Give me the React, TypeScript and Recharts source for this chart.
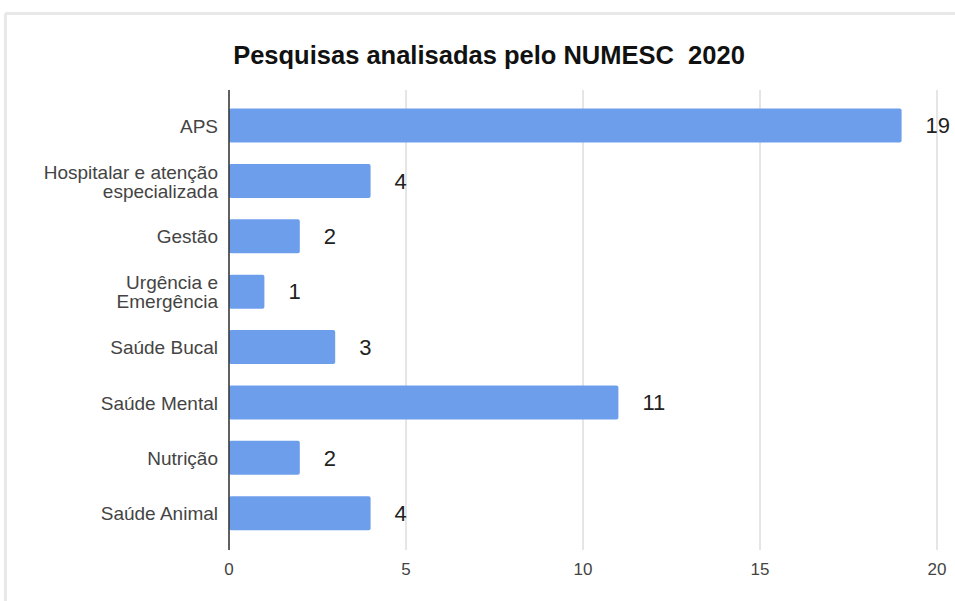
import React from 'react';
import { BarChart, Bar, XAxis, YAxis, CartesianGrid, LabelList } from 'recharts';

const categories = [
  'APS',
  'Hospitalar e atenção especializada',
  'Gestão',
  'Urgência e Emergência',
  'Saúde Bucal',
  'Saúde Mental',
  'Nutrição',
  'Saúde Animal',
];
const pesquisas = [19, 4, 2, 1, 3, 11, 2, 4];
const xTicks = [0, 5, 10, 15, 20];

const data = categories.map((name, i) => ({ name, value: pesquisas[i] }));

const FONT = "Arial, 'Liberation Sans', sans-serif";

// greedy wrap, ~20 chars per line like the sheets chart
function wrap(label: string, max = 20): string[] {
  const words = label.split(' ');
  const lines: string[] = [];
  let cur = '';
  words.forEach((w) => {
    const next = cur ? cur + ' ' + w : w;
    if (next.length > max && cur) {
      lines.push(cur);
      cur = w;
    } else {
      cur = next;
    }
  });
  if (cur) lines.push(cur);
  return lines;
}

function CategoryTick(props: any) {
  const { x, y, payload } = props;
  const lines = wrap(String(payload.value));
  const lh = 19;
  const y0 = y - ((lines.length - 1) * lh) / 2;
  return (
    <text x={x} y={y0} textAnchor="end" dominantBaseline="central" fill="#444" fontSize={19} fontFamily={FONT}>
      {lines.map((l, i) => (
        <tspan key={i} x={x} y={y0 + i * lh}>
          {l}
        </tspan>
      ))}
    </text>
  );
}

export default function App() {
  return (
    <div style={{ position: 'absolute', left: 0, top: 0, width: 955, height: 601, overflow: 'hidden', background: '#fff' }}>
      <div
        style={{
          position: 'absolute',
          left: 4,
          top: 12,
          width: 980,
          height: 640,
          border: '3px solid #e8e8e8',
          borderRadius: 3,
          boxSizing: 'border-box',
        }}
      />
      <div
        style={{
          position: 'absolute',
          left: 189,
          top: 40,
          width: 600,
          textAlign: 'center',
          fontFamily: FONT,
          fontWeight: 'bold',
          fontSize: 25.5,
          lineHeight: '30px',
          color: '#111',
          whiteSpace: 'pre',
        }}
      >
        {'Pesquisas analisadas pelo NUMESC  2020'}
      </div>
      <div style={{ position: 'absolute', left: 0, top: 0 }}>
        <BarChart
          width={955}
          height={601}
          data={data}
          layout="vertical"
          margin={{ top: 90, right: 18, bottom: 21, left: 0 }}
          barCategoryGap="19%"
        >
          <CartesianGrid horizontal={false} stroke="#cccccc" />
          <XAxis
            type="number"
            domain={[0, 20]}
            ticks={xTicks}
            axisLine={false}
            tickLine={false}
            tickSize={0}
            tickMargin={13}
            height={30}
            tick={{ fill: '#444', fontSize: 17, fontFamily: FONT }}
          />
          <YAxis
            type="category"
            dataKey="name"
            width={229}
            padding={{ top: 8, bottom: 9 }}
            axisLine={{ stroke: '#333', strokeWidth: 1.5 }}
            tickLine={false}
            tickSize={0}
            tickMargin={11}
            tick={<CategoryTick />}
            interval={0}
          />
          <Bar dataKey="value" fill="#6d9eeb" radius={2} isAnimationActive={false}>
            <LabelList dataKey="value" position="right" offset={24} fill="#222" fontSize={22} fontFamily={FONT} />
          </Bar>
        </BarChart>
      </div>
    </div>
  );
}
